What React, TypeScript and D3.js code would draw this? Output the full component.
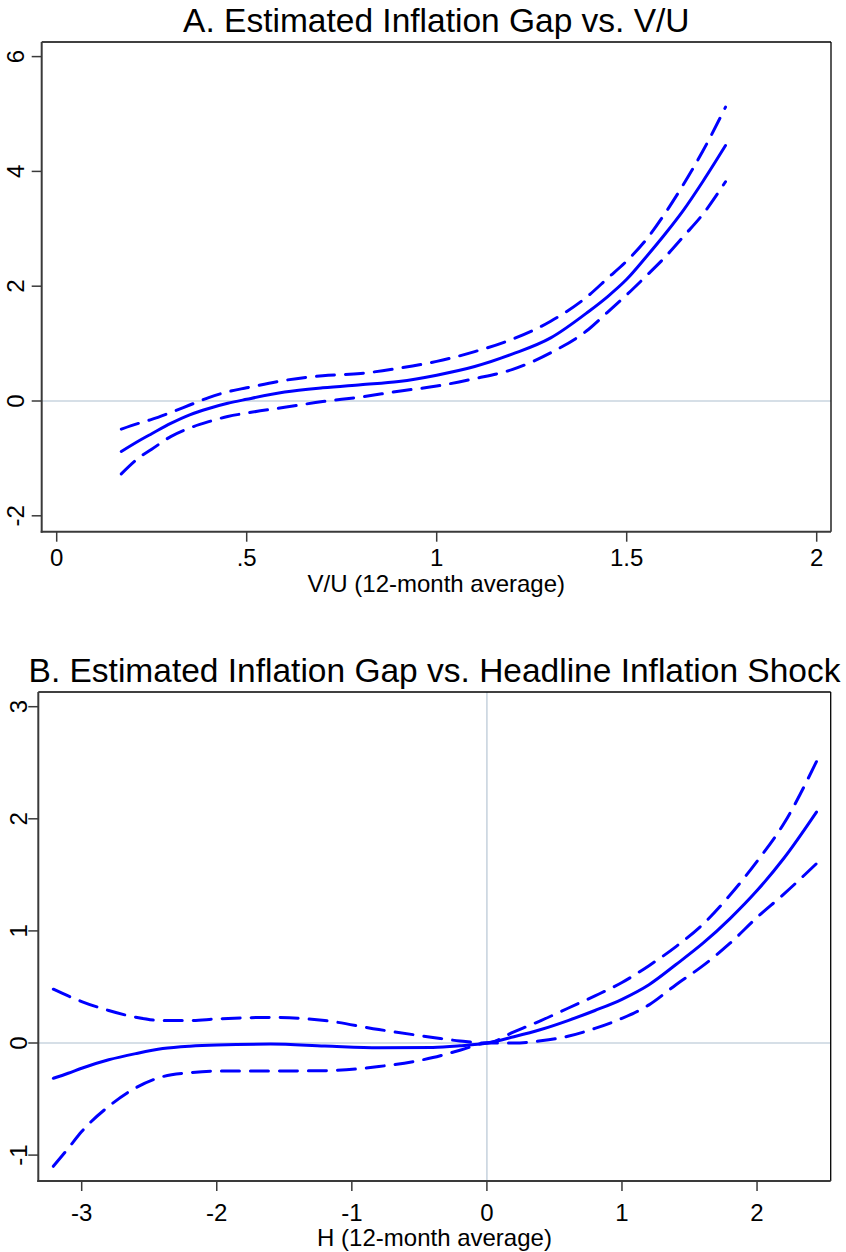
import React from 'react';
import * as d3 from 'd3';

// Panel A: V/U
const vuX = [0.17, 0.22, 0.25, 0.3, 0.35, 0.4, 0.45, 0.5, 0.6, 0.7, 0.8, 0.9, 1.0, 1.1, 1.2, 1.3, 1.4, 1.45, 1.5, 1.55, 1.6, 1.65, 1.7, 1.76];
const vuFit = [-0.88, -0.68, -0.57, -0.39, -0.24, -0.13, -0.04, 0.03, 0.155, 0.23, 0.285, 0.34, 0.45, 0.6, 0.82, 1.1, 1.56, 1.82, 2.12, 2.5, 2.9, 3.33, 3.82, 4.45];
const vuUpper = [-0.49, -0.38, -0.32, -0.2, -0.07, 0.06, 0.16, 0.23, 0.36, 0.44, 0.48, 0.57, 0.69, 0.86, 1.08, 1.39, 1.84, 2.14, 2.44, 2.8, 3.26, 3.78, 4.35, 5.12];
const vuLower = [-1.27, -0.97, -0.84, -0.62, -0.47, -0.36, -0.27, -0.21, -0.11, -0.01, 0.07, 0.17, 0.26, 0.39, 0.55, 0.84, 1.25, 1.55, 1.85, 2.17, 2.5, 2.87, 3.25, 3.82];
const vuXTicks = [0, 0.5, 1, 1.5, 2];
const vuXTickLabels = ['0', '.5', '1', '1.5', '2'];
const vuYTicks = [-2, 0, 2, 4, 6];

// Panel B: Headline inflation shock
const hX = [-3.21, -3.1, -3.0, -2.8, -2.6, -2.4, -2.2, -2.0, -1.6, -1.2, -0.8, -0.4, -0.2, 0, 0.2, 0.4, 0.6, 0.8, 1.0, 1.2, 1.4, 1.6, 1.8, 2.0, 2.2, 2.44];
const hFit = [-0.315, -0.27, -0.225, -0.15, -0.095, -0.05, -0.028, -0.017, -0.01, -0.027, -0.043, -0.04, -0.025, 0, 0.056, 0.12, 0.2, 0.29, 0.39, 0.52, 0.7, 0.89, 1.11, 1.36, 1.65, 2.06];
const hUpper = [0.48, 0.42, 0.37, 0.29, 0.23, 0.2, 0.2, 0.215, 0.228, 0.2, 0.12, 0.05, 0.018, 0, 0.1, 0.2, 0.31, 0.42, 0.54, 0.69, 0.86, 1.06, 1.32, 1.62, 1.96, 2.51];
const hLower = [-1.1, -0.94, -0.79, -0.565, -0.4, -0.3, -0.265, -0.25, -0.25, -0.247, -0.21, -0.13, -0.065, 0, 0, 0.02, 0.06, 0.13, 0.22, 0.34, 0.52, 0.69, 0.89, 1.12, 1.33, 1.6];
const hXTicks = [-3, -2, -1, 0, 1, 2];
const hXTickLabels = ['-3', '-2', '-1', '0', '1', '2'];
const hYTicks = [-1, 0, 1, 2, 3];

const FONT = '"Liberation Sans", Arial, Helvetica, sans-serif';
const BLUE = '#0000ff';
const GRID = '#c9d4df';
const AXIS = '#3a3a3a';

type PanelProps = {
  title: string;
  titleY: number;
  left: number;
  right: number;
  top: number;
  bottom: number;
  xDomain: [number, number];
  yDomain: [number, number];
  xs: number[];
  fit: number[];
  upper: number[];
  lower: number[];
  xTicks: number[];
  xTickLabels: string[];
  yTicks: number[];
  xTitle: string;
  vZero: boolean;
  yLabelX: number;
  xLabelY: number;
  xTitleY: number;
};

function Panel(p: PanelProps) {
  const x = d3.scaleLinear().domain(p.xDomain).range([p.left, p.right]);
  const y = d3.scaleLinear().domain(p.yDomain).range([p.bottom, p.top]);
  const mk = (vals: number[]) =>
    d3
      .line<number>()
      .x((_, i) => x(p.xs[i]))
      .y((d) => y(d))
      .curve(d3.curveMonotoneX)(vals) as string;
  const cx = (p.left + p.right) / 2;
  const tickLen = 10;
  return (
    <g>
      <text x={cx} y={p.titleY} textAnchor="middle" fontSize={33.5} fontFamily={FONT} fill="#000">
        {p.title}
      </text>
      {/* zero reference lines */}
      <line x1={p.left} x2={p.right} y1={y(0)} y2={y(0)} stroke={GRID} strokeWidth={1.6} />
      {p.vZero && <line x1={x(0)} x2={x(0)} y1={p.top} y2={p.bottom} stroke={GRID} strokeWidth={1.6} />}
      {/* curves */}
      <path d={mk(p.upper)} fill="none" stroke={BLUE} strokeWidth={3} strokeDasharray="18 11" strokeLinecap="round" />
      <path d={mk(p.lower)} fill="none" stroke={BLUE} strokeWidth={3} strokeDasharray="18 11" strokeLinecap="round" />
      <path d={mk(p.fit)} fill="none" stroke={BLUE} strokeWidth={3} strokeLinecap="round" strokeLinejoin="round" />
      {/* plot region border (top/right) */}
      <line x1={p.left} x2={p.right} y1={p.top} y2={p.top} stroke="#000" strokeWidth={1.3} />
      <line x1={p.right} x2={p.right} y1={p.top} y2={p.bottom} stroke="#000" strokeWidth={1.3} />
      {/* axes */}
      <line x1={p.left} x2={p.left} y1={p.top} y2={p.bottom + 1} stroke={AXIS} strokeWidth={2} />
      <line x1={p.left - 1} x2={p.right} y1={p.bottom} y2={p.bottom} stroke={AXIS} strokeWidth={2} />
      {p.yTicks.map((t) => (
        <g key={'y' + t}>
          <line x1={p.left - tickLen} x2={p.left} y1={y(t)} y2={y(t)} stroke={AXIS} strokeWidth={1.5} />
          <text
            transform={`translate(${p.yLabelX},${y(t)}) rotate(-90)`}
            textAnchor="middle"
            fontSize={24}
            fontFamily={FONT}
            fill="#000"
          >
            {String(t)}
          </text>
        </g>
      ))}
      {p.xTicks.map((t, i) => (
        <g key={'x' + t}>
          <line x1={x(t)} x2={x(t)} y1={p.bottom} y2={p.bottom + tickLen} stroke={AXIS} strokeWidth={1.5} />
          <text x={x(t)} y={p.xLabelY} textAnchor="middle" fontSize={24} fontFamily={FONT} fill="#000">
            {p.xTickLabels[i]}
          </text>
        </g>
      ))}
      <text x={cx} y={p.xTitleY} textAnchor="middle" fontSize={24} fontFamily={FONT} fill="#000">
        {p.xTitle}
      </text>
    </g>
  );
}

export default function App() {
  // Panel A pixel frame
  const aLeft = 41.7, aRight = 831, aTop = 42, aBottom = 531.7;
  const aX0 = 56.7, aXU = 380; // pixel of x=0, pixels per unit
  const aY0 = 401, aYU = 57.4;
  // Panel B pixel frame
  const bLeft = 38.3, bRight = 830.7, bTop = 692, bBottom = 1181;
  const bX0 = 486.9, bXU = 135.07;
  const bY0 = 1043, bYU = 112.1;
  return (
    <svg
      width={846}
      height={1252}
      style={{ position: 'absolute', left: 0, top: 0, background: '#fff', display: 'block' }}
    >
      <rect x={0} y={0} width={846} height={1252} fill="#fff" />
      <Panel
        title="A. Estimated Inflation Gap vs. V/U"
        titleY={32}
        left={aLeft}
        right={aRight}
        top={aTop}
        bottom={aBottom}
        xDomain={[(aLeft - aX0) / aXU, (aRight - aX0) / aXU]}
        yDomain={[(aY0 - aBottom) / aYU, (aY0 - aTop) / aYU]}
        xs={vuX}
        fit={vuFit}
        upper={vuUpper}
        lower={vuLower}
        xTicks={vuXTicks}
        xTickLabels={vuXTickLabels}
        yTicks={vuYTicks}
        xTitle="V/U (12-month average)"
        vZero={false}
        yLabelX={23.5}
        xLabelY={566}
        xTitleY={592}
      />
      <Panel
        title="B. Estimated Inflation Gap vs. Headline Inflation Shock"
        titleY={682}
        left={bLeft}
        right={bRight}
        top={bTop}
        bottom={bBottom}
        xDomain={[(bLeft - bX0) / bXU, (bRight - bX0) / bXU]}
        yDomain={[(bY0 - bBottom) / bYU, (bY0 - bTop) / bYU]}
        xs={hX}
        fit={hFit}
        upper={hUpper}
        lower={hLower}
        xTicks={hXTicks}
        xTickLabels={hXTickLabels}
        yTicks={hYTicks}
        xTitle="H (12-month average)"
        vZero={true}
        yLabelX={26.5}
        xLabelY={1221}
        xTitleY={1246}
      />
    </svg>
  );
}
